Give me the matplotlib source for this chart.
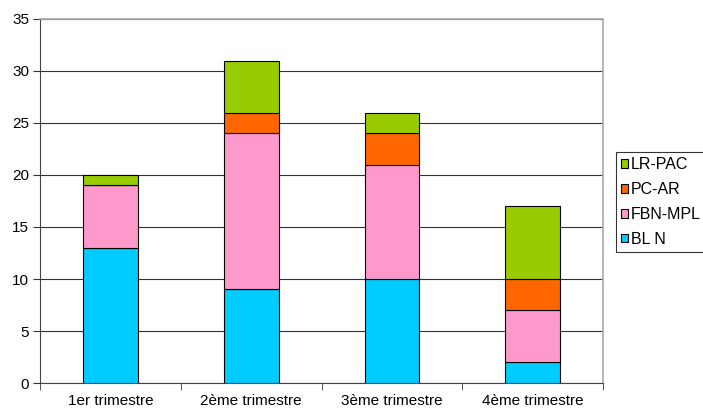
#!/usr/bin/env python3
"""Stacked bar chart by quarter."""

import matplotlib

matplotlib.use("Agg")
import matplotlib.pyplot as plt
import numpy as np

plt.rcParams["font.family"] = ["Liberation Sans", "DejaVu Sans"]

categories = ["1er trimestre", "2ème trimestre", "3ème trimestre", "4ème trimestre"]
series_names = ["BL N", "FBN-MPL", "PC-AR", "LR-PAC"]
bl_n = [13, 9, 10, 2]
fbn_mpl = [6, 15, 11, 5]
pc_ar = [0, 2, 3, 3]
lr_pac = [1, 5, 2, 7]
colors = ["#00CCFF", "#FF99CC", "#FF6600", "#99CC00"]


def main() -> int:
    fig = plt.figure(figsize=(7.03, 4.11), dpi=100)
    ax = fig.add_axes([0.057, 0.068, 0.801, 0.886])

    x = np.arange(len(categories))
    bottom = np.zeros(len(categories))
    handles = []
    for name, vals, col in zip(series_names, [bl_n, fbn_mpl, pc_ar, lr_pac], colors):
        vals = np.array(vals, dtype=float)
        h = ax.bar(x, vals, width=0.39, bottom=bottom, color=col,
                   edgecolor="black", linewidth=0.8, label=name, zorder=3)
        handles.append(h)
        bottom += vals

    ax.set_xlim(-0.5, 3.5)
    ax.set_ylim(0, 35)
    ax.set_yticks(range(0, 36, 5))
    ax.yaxis.grid(True, color="#333333", linewidth=0.8, zorder=0)
    ax.set_axisbelow(True)

    ax.set_xticks(x)
    ax.set_xticklabels(categories)
    ax.set_xticks(np.arange(-0.5, 4.0, 1.0), minor=True)
    ax.tick_params(axis="x", which="major", length=0, pad=8, labelsize=11)
    ax.tick_params(axis="x", which="minor", length=5, direction="out", color="#333333")
    ax.tick_params(axis="y", length=5, direction="out", pad=3, labelsize=11, color="#333333")

    ax.spines["top"].set_color("#AAAAAA")
    ax.spines["right"].set_color("#AAAAAA")
    ax.spines["top"].set_linewidth(1.2)
    ax.spines["right"].set_linewidth(1.2)
    ax.spines["left"].set_color("#444444")
    ax.spines["bottom"].set_color("#444444")

    leg = fig.legend(handles[::-1], series_names[::-1], loc="upper left",
                     bbox_to_anchor=(0.876, 0.630), frameon=True, fancybox=False,
                     edgecolor="black", fontsize=11.5, handlelength=0.45, handleheight=0.45,
                     handletextpad=0.15, borderpad=0.32, labelspacing=0.62,
                     borderaxespad=0)
    leg.get_frame().set_linewidth(0.8)

    fig.savefig("out.png", dpi=100)
    plt.close(fig)
    return 0


if __name__ == "__main__":
    raise SystemExit(main())
